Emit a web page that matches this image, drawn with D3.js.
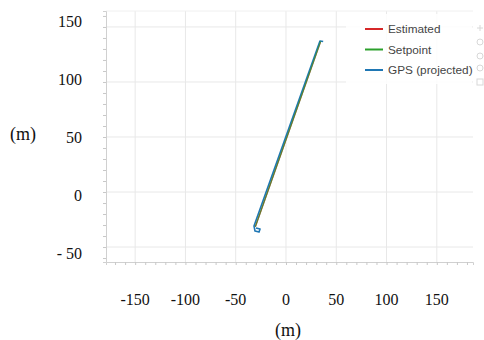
<!DOCTYPE html>
<html><head><meta charset="utf-8">
<script src="https://cdn.jsdelivr.net/npm/d3@7"></script>
<style>body{margin:0;background:#fff}svg{display:block}</style>
</head><body>
<svg id="c" width="484" height="340"></svg>
<script>
// ---- data ----
const xTicks = [-150, -100, -50, 0, 50, 100, 150];
const yTicks = [150, 100, 50, 0, -50];
const yTickLabels = ["150", "100", "50", "0", "- 50"];
const seriesNames = ["Estimated", "Setpoint", "GPS (projected)"];
const seriesColors = ["#d62728", "#2ca02c", "#1f77b4"];
const estimatedX = [-30.5, 34.5];
const estimatedY = [-31.5, 137.0];
const setpointX = [-30.5, 34.5];
const setpointY = [-31.5, 137.0];
const gpsX = [-29.8, -25.8, -26.8, -30.8, -31.8, 33.8, 37.0];
const gpsY = [-32.7, -33.6, -36.4, -35.5, -30.9, 137.3, 136.8];

// ---- layout ----
const svg = d3.select("#c");
const L = 106, R = 473, T = 11, B = 262;
const x = d3.scaleLinear().domain([-179, 186]).range([L, R]);
const y = d3.scaleLinear().domain([-63.6, 164.5]).range([B, T]);
// tick-label placement scale (labels in the source sit on a slightly different spacing)
const yLab = d3.scaleLinear().domain([-50, 150]).range([253, 21]);

// grid
const g = svg.append("g");
g.selectAll(".gx").data(xTicks).join("line")
  .attr("x1", d => x(d)).attr("x2", d => x(d)).attr("y1", T).attr("y2", B)
  .attr("stroke", "#e8e8e8").attr("stroke-width", 1);
g.selectAll(".gy").data(yTicks).join("line")
  .attr("x1", L).attr("x2", R).attr("y1", d => y(d)).attr("y2", d => y(d))
  .attr("stroke", "#e8e8e8").attr("stroke-width", 1);
g.append("line").attr("x1", L).attr("x2", R).attr("y1", T).attr("y2", T).attr("stroke", "#f0f0f0");

// axes with minor ticks
const xAx = d3.axisBottom(x).tickValues(d3.range(-170, 190, 10)).tickSize(3).tickFormat("");
const yAx = d3.axisLeft(y).tickValues(d3.range(-60, 170, 10)).tickSize(3).tickFormat("");
const xa = svg.append("g").attr("transform", `translate(0,${B})`).call(xAx);
const ya = svg.append("g").attr("transform", `translate(${L},0)`).call(yAx);
[xa, ya].forEach(a => {
  a.select(".domain").attr("stroke", "#d0d0d0");
  a.selectAll(".tick line").attr("stroke", "#c8c8c8");
});

// tick labels
svg.selectAll(".xl").data(xTicks).join("text")
  .attr("x", d => x(d)).attr("y", 305)
  .attr("text-anchor", "middle")
  .attr("font-family", "Liberation Serif, Times New Roman, serif")
  .attr("font-size", 16).attr("fill", "#111")
  .text(d => d);
svg.selectAll(".yl").data(yTicks).join("text")
  .attr("x", 82).attr("y", d => yLab(d) + 5.5)
  .attr("text-anchor", "end")
  .attr("font-family", "Liberation Serif, Times New Roman, serif")
  .attr("font-size", 16).attr("fill", "#111")
  .text((d, i) => yTickLabels[i]);
svg.append("text").attr("x", 288).attr("y", 336).attr("text-anchor", "middle")
  .attr("font-family", "Liberation Serif, Times New Roman, serif").attr("font-size", 18).attr("fill", "#111").text("(m)");
svg.append("text").attr("x", 23).attr("y", 140).attr("text-anchor", "middle")
  .attr("font-family", "Liberation Serif, Times New Roman, serif").attr("font-size", 18).attr("fill", "#111").text("(m)");

// lines
const line = d3.line().x(d => x(d[0])).y(d => y(d[1]));
const series = [
  d3.zip(estimatedX, estimatedY),
  d3.zip(gpsX, gpsY),
  d3.zip(setpointX, setpointY)
];
svg.append("path").datum(series[0]).attr("d", line).attr("fill", "none")
  .attr("stroke", seriesColors[0]).attr("stroke-width", 1.2);
svg.append("path").datum(series[1]).attr("d", line).attr("fill", "none")
  .attr("stroke", seriesColors[2]).attr("stroke-width", 1.6).attr("stroke-linejoin", "round");
svg.append("path").datum(series[2]).attr("d", line).attr("fill", "none")
  .attr("stroke", seriesColors[1]).attr("stroke-width", 1.4).attr("stroke-opacity", 0.65);

// legend
const lg = svg.append("g");
lg.append("rect").attr("x", 346).attr("y", 14).attr("width", 126).attr("height", 70)
  .attr("fill", "#fff").attr("fill-opacity", 0.85);
seriesNames.forEach((n, i) => {
  const yy = 29 + i * 20.5;
  lg.append("line").attr("x1", 365).attr("x2", 383).attr("y1", yy).attr("y2", yy)
    .attr("stroke", seriesColors[i]).attr("stroke-width", 2);
  lg.append("text").attr("x", 388).attr("y", yy + 4).attr("font-family", "Liberation Sans, Arial, sans-serif")
    .attr("font-size", 11.8).attr("fill", "#444").text(n);
});

// faint modebar glyphs
const mb = svg.append("g").attr("stroke", "#d8d8d8").attr("fill", "none").attr("stroke-width", 1);
[28, 42, 56, 68, 82].forEach((yy, i) => {
  if (i === 0) { mb.append("path").attr("d", `M477,${yy} h6 M480,${yy-3} v6`); }
  else if (i === 4) { mb.append("rect").attr("x", 477).attr("y", yy - 3).attr("width", 6).attr("height", 6); }
  else { mb.append("circle").attr("cx", 480).attr("cy", yy).attr("r", 3); }
});
</script>
</body></html>
